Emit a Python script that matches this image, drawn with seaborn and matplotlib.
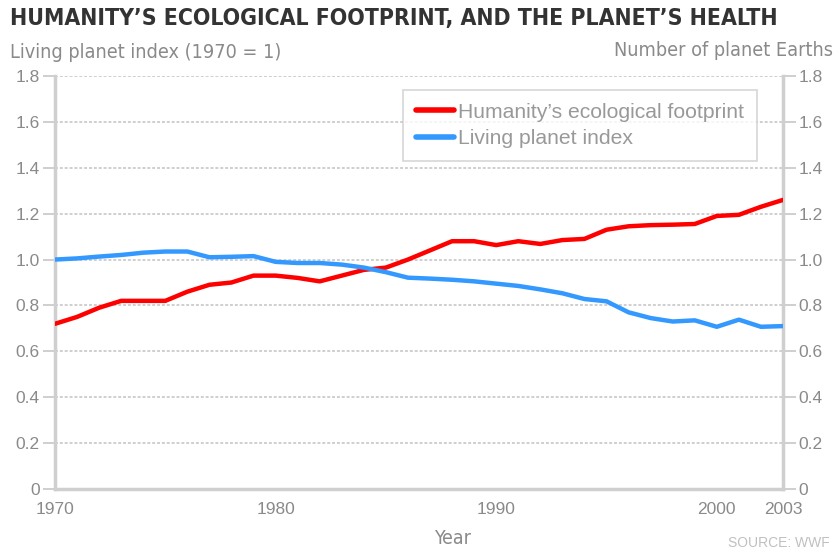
import numpy as np
import pandas as pd
import matplotlib
matplotlib.use("Agg")
import matplotlib.pyplot as plt
import seaborn as sns

# Dados (WWF)
years = list(range(1970, 2004))
footprint = [0.72, 0.75, 0.79, 0.82, 0.82, 0.82, 0.86, 0.89, 0.90, 0.93,
             0.93, 0.92, 0.905, 0.93, 0.955, 0.965, 1.00, 1.04, 1.08, 1.08,
             1.063, 1.08, 1.068, 1.085, 1.09, 1.13, 1.145, 1.15, 1.152, 1.155,
             1.19, 1.195, 1.23, 1.26]
living_index = [1.00, 1.005, 1.013, 1.02, 1.03, 1.035, 1.035, 1.01, 1.012, 1.015,
                0.99, 0.985, 0.985, 0.978, 0.965, 0.945, 0.921, 0.917, 0.912, 0.905,
                0.895, 0.885, 0.87, 0.853, 0.828, 0.818, 0.77, 0.745, 0.73, 0.735,
                0.707, 0.738, 0.707, 0.71]
series_names = ["Humanity\u2019s ecological footprint", "Living planet index"]
y_ticks = [0, 0.2, 0.4, 0.6, 0.8, 1.0, 1.2, 1.4, 1.6, 1.8]
x_ticks = [1970, 1980, 1990, 2000, 2003]

data = pd.DataFrame({
    "year": years * 2,
    "value": footprint + living_index,
    "series": [series_names[0]] * len(years) + [series_names[1]] * len(years),
})

sns.set_style("white")
plt.rcParams["font.family"] = ["Liberation Sans", "DejaVu Sans"]

grey_txt = "#8a8a8a"
grey_line = "#cfcfcf"

fig = plt.figure(figsize=(8.38, 5.5), dpi=100)
ax = fig.add_axes([55 / 838, 1 - 489 / 550, 728 / 838, 413 / 550])

sns.lineplot(data=data, x="year", y="value", hue="series",
             palette=["#ff0000", "#3399ff"], linewidth=3.2, ax=ax, zorder=3)

ax.set_xlim(1970, 2003)
ax.set_ylim(0, 1.8)
ax.set_yticks(y_ticks)
ax.set_yticklabels(["0" if v == 0 else f"{v:.1f}" for v in y_ticks])
ax.set_xticks(x_ticks)
ax.set_xticklabels([str(v) for v in x_ticks])
ax.set_xlabel("")
ax.set_ylabel("")

# grade pontilhada
for v in y_ticks[1:]:
    ax.axhline(v, color=grey_line, lw=1.4, ls=(0, (1.5, 1)), zorder=1)

ax.spines["top"].set_visible(False)
for side in ["left", "right", "bottom"]:
    ax.spines[side].set_color(grey_line)
    ax.spines[side].set_linewidth(2.5)
ax.spines["bottom"].set_zorder(4)

ax.tick_params(axis="y", colors=grey_line, labelcolor=grey_txt, labelsize=12.5,
               length=9, width=1.4, direction="out", pad=2)
ax.tick_params(axis="x", colors=grey_line, labelcolor=grey_txt, labelsize=12.5,
               length=10, width=1.2, direction="inout", pad=4)

ax2 = ax.twinx()
ax2.set_ylim(0, 1.8)
ax2.set_yticks(y_ticks)
ax2.set_yticklabels(["0" if v == 0 else f"{v:.1f}" for v in y_ticks])
for side in ["top", "left", "right", "bottom"]:
    ax2.spines[side].set_visible(False)
ax2.tick_params(axis="y", colors=grey_line, labelcolor=grey_txt, labelsize=12.5,
                length=9, width=1.4, direction="out", pad=2)

leg = ax.legend(loc="upper left", bbox_to_anchor=(348 / 728, 1 - 14 / 413),
                frameon=True, fancybox=False, fontsize=15.2, handlelength=1.8,
                handletextpad=0.2, borderpad=0.6, labelspacing=0.35,
                borderaxespad=0)
leg.get_frame().set_edgecolor("#cccccc")
leg.get_frame().set_linewidth(1.2)
for t in leg.get_texts():
    t.set_color("#999999")
for h in leg.get_lines():
    h.set_linewidth(4)

cond = dict(family="DejaVu Sans", fontstretch="condensed")
fig.text(10 / 838, 1 - 19 / 550, "HUMANITY\u2019S ECOLOGICAL FOOTPRINT, AND THE PLANET\u2019S HEALTH",
         fontsize=16.5, fontweight="bold", color="#333333", va="center", ha="left", **cond)
fig.text(10 / 838, 1 - 53 / 550, "Living planet index (1970 = 1)", fontsize=14.2,
         color=grey_txt, va="center", ha="left", **cond)
fig.text(833 / 838, 1 - 51 / 550, "Number of planet Earths", fontsize=14.2,
         color=grey_txt, va="center", ha="right", **cond)
fig.text(452 / 838, 1 - 538 / 550, "Year", fontsize=14, color=grey_txt,
         va="center", ha="center", **cond)
fig.text(830 / 838, 1 - 543 / 550, "SOURCE: WWF", fontsize=10, color="#c0c0c0",
         va="center", ha="right")

fig.savefig("out.png", dpi=100)
